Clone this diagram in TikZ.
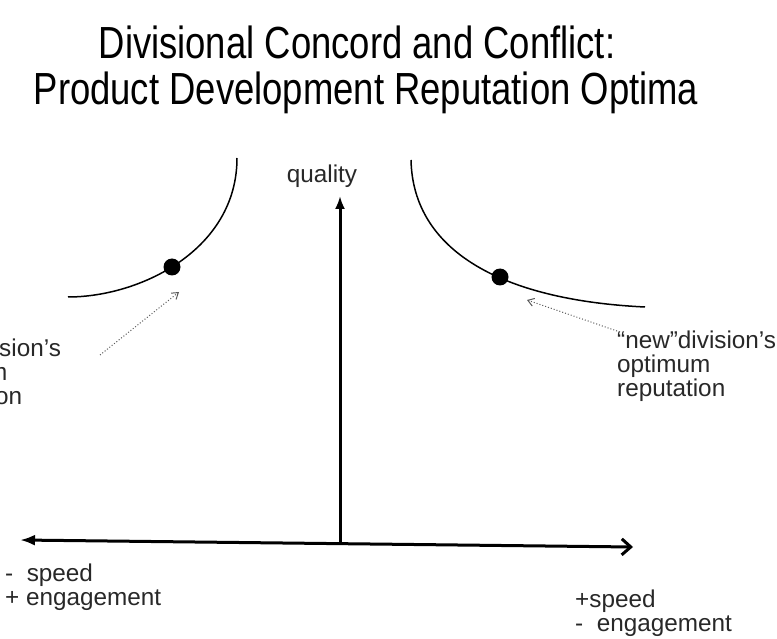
\documentclass[tikz,border=0pt]{standalone}
\usepackage{fontspec}
\setmainfont{Liberation Sans}
\newfontfamily\titlefam[FakeStretch=0.81]{Liberation Sans}
\usetikzlibrary{arrows.meta}
\definecolor{txt}{RGB}{40,40,40}
\definecolor{dotgray}{RGB}{90,90,90}
\begin{document}
\begin{tikzpicture}[x=1pt,y=-1pt,
  titlefont/.style={font=\titlefam\fontsize{45}{50}\selectfont, text=black, inner sep=0pt},
  lbl/.style={font=\fontsize{24.3}{23.8}\selectfont, text=txt, inner sep=0pt},
  axis/.style={line width=3pt, black},
  curve/.style={line width=1.5pt, black},
  dotmark/.style={circle, fill=black, inner sep=0pt, minimum size=17pt},
  dotarr/.style={dotgray, line width=1pt, dotted, -{Straight Barb[length=6pt,width=8pt,line width=1pt]}}
]
\useasboundingbox (0,0) rectangle (777,639);
\clip (0,0) rectangle (777,639);
\fill[white] (0,0) rectangle (777,639);

% title
\node[titlefont, anchor=base] (t1) at (357,59) {Divisional Concord and Conflict:};
\node[titlefont, anchor=base] (t2) at (366,105) {Product Development Reputation Optima};

% axes
\coordinate (hl) at (20,540);
\coordinate (hr) at (633,547);
\coordinate (o) at (340,543.5);
\coordinate (vt) at (340,196);
\draw[axis, {Latex[length=15pt,width=11pt]}-{Straight Barb[length=9pt,width=16pt,line width=3pt]}] (hl) -- (hr);
\draw[axis, -{Latex[length=13pt,width=10pt]}] (o) -- (vt);
\node[lbl, anchor=base] (q) at (322,183) {quality};

% curves
\draw[curve] (237,158) .. controls (237,250) and (140,297) .. (68,297);
\draw[curve] (411,160) .. controls (413,250) and (500,300) .. (645,307);
\node[dotmark] (ldot) at (172,267) {};
\node[dotmark] (rdot) at (500,277) {};

% labels
\node[lbl, align=left, anchor=north west] (rlab) at (617,331) {“new”division’s\\optimum\\reputation};
\node[lbl, align=left, anchor=north west] (llab) at (-86,339) {“old”division’s\\optimum\\reputation};
\coordinate (rtip) at (527,300);
\coordinate (ltail) at (100,355);
\coordinate (ltip) at (179,292);
\draw[dotarr] (rlab.north west) -- (rtip);
\draw[dotarr] (ltail) -- (ltip);

% axis end labels
\node[lbl, align=left, anchor=north west] (lneg) at (5,564) {-\ \ speed\\+ engagement};
\node[lbl, align=left, anchor=north west] (rpos) at (575,590) {+speed\\-\ \ engagement};
\end{tikzpicture}
\end{document}
